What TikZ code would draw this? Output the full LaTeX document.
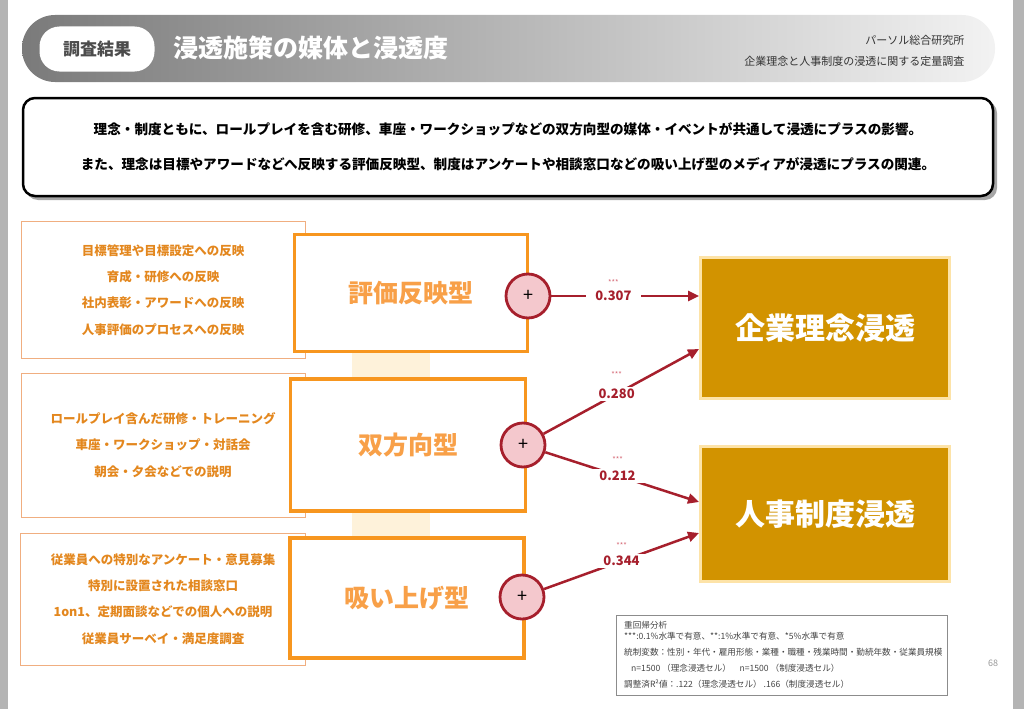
\documentclass[tikz,border=0pt]{standalone}
\usepackage{fontspec}
\setmainfont{Noto Sans CJK JP}
\usetikzlibrary{arrows.meta}
\definecolor{sidegray}{HTML}{B4B4B4}
\definecolor{listedge}{HTML}{F0AE80}
\definecolor{listtext}{HTML}{E3871E}
\definecolor{typeedge}{HTML}{F7961F}
\definecolor{typetext}{HTML}{F8A048}
\definecolor{bandyellow}{HTML}{FEF2DA}
\definecolor{plusred}{HTML}{A61F2C}
\definecolor{pluspink}{HTML}{F4C8CD}
\definecolor{gold}{HTML}{D29300}
\definecolor{goldedge}{HTML}{FDE3A8}
\definecolor{starred}{HTML}{D8707C}
\definecolor{notegray}{HTML}{444444}
\begin{document}
\begin{tikzpicture}[x=1pt,y=-1pt,
  listbox/.style={draw=listedge, line width=0.8pt, text=listtext, align=center, inner sep=0pt,
    font=\fontsize{12.5}{26.3}\selectfont\bfseries},
  typebox/.style={draw=typeedge, line width=3.5pt, fill=white, text=typetext, inner sep=0pt,
    font=\fontsize{25}{30}\selectfont\bfseries},
  plus/.style={circle, draw=plusred, line width=2.8pt, fill=pluspink, minimum size=44pt, inner sep=0pt,
    font=\fontsize{18}{18}\selectfont},
  goalbox/.style={draw=goldedge, line width=3pt, fill=gold, text=white, inner sep=0pt,
    minimum width=249pt, font=\fontsize{30}{36}\selectfont\bfseries},
  link/.style={draw=plusred, line width=2.5pt, -{Triangle[length=11pt,width=10pt]}},
  coef/.style={fill=white, text=plusred, font=\fontsize{13}{13}\selectfont\bfseries, inner xsep=9pt, inner ysep=2pt},
  stars/.style={fill=white, text=starred, font=\fontsize{7.5}{7.5}\selectfont, inner sep=1pt},
  note/.style={anchor=west, text=notegray, font=\fontsize{8.6}{9}\selectfont, inner sep=0pt}
]
\useasboundingbox (0,0) rectangle (1024,709);
\fill[sidegray] (0,0) rectangle (8,709);
\fill[sidegray] (1013,0) rectangle (1024,709);

\shade[left color=black!52, right color=black!5, rounded corners=33pt] (22,15) rectangle (995,82);
\node[fill=white, rounded corners=20pt, minimum width=115pt, minimum height=45pt, text=black!70,
  font=\fontsize{17}{17}\selectfont\bfseries] (tag) at (97,49) {調査結果};
\node[anchor=west, text=white, font=\fontsize{25}{25}\selectfont\bfseries] (title) at (170,48) {浸透施策の媒体と浸透度};
\node[anchor=east, text=black!80, font=\fontsize{11}{11}\selectfont] (org) at (968,40) {パーソル総合研究所};
\node[anchor=east, text=black!80, font=\fontsize{11}{11}\selectfont] (survey) at (968,61) {企業理念と人事制度の浸透に関する定量調査};

\fill[black!35, rounded corners=12pt] (26,101) rectangle (997,200);
\node[draw=black, line width=2.5pt, fill=white, rounded corners=12pt, minimum width=970pt, minimum height=98pt,
  align=center, font=\fontsize{13.6}{35}\selectfont\bfseries] (summary) at (508,147)
  {理念・制度ともに、ロールプレイを含む研修、車座・ワークショップなどの双方向型の媒体・イベントが共通して浸透にプラスの影響。\\
   また、理念は目標やアワードなどへ反映する評価反映型、制度はアンケートや相談窓口などの吸い上げ型のメディアが浸透にプラスの関連。};

\fill[bandyellow] (352,352) rectangle (430,538);

\node[listbox, minimum width=284pt, minimum height=137pt] (list1) at (163,290)
  {目標管理や目標設定への反映\\育成・研修への反映\\社内表彰・アワードへの反映\\人事評価のプロセスへの反映};
\node[listbox, minimum width=284pt, minimum height=144pt] (list2) at (163,445)
  {ロールプレイ含んだ研修・トレーニング\\車座・ワークショップ・対話会\\朝会・夕会などでの説明};
\node[listbox, minimum width=285pt, minimum height=132pt] (list3) at (163,599)
  {従業員への特別なアンケート・意見募集\\特別に設置された相談窓口\\1on1、定期面談などでの個人への説明\\従業員サーベイ・満足度調査};

\node[typebox, minimum width=233pt, minimum height=117pt] (eval) at (411,293) {評価反映型};
\node[typebox, minimum width=235pt, minimum height=132pt] (dual) at (408,445) {双方向型};
\node[typebox, minimum width=234pt, minimum height=120pt] (pull) at (407,598) {吸い上げ型};

\node[goalbox, minimum height=141pt] (idea) at (825,328) {企業理念浸透};
\node[goalbox, minimum height=135pt] (rule) at (825,514) {人事制度浸透};

\node[plus] (pa) at (528,296) {+};
\node[plus] (pb) at (523,445) {+};
\node[plus] (pc) at (522,597) {+};

\draw[link] (pa) -- node[coef, pos=0.42] (v1) {0.307} (pa -| idea.west);
\draw[link] (pb) -- node[coef, pos=0.47] (v2) {0.280} ([yshift=-21pt]idea.west);
\draw[link] (pb) -- node[coef, pos=0.47] (v3) {0.212} ([yshift=12pt]rule.west);
\draw[link] (pc) -- node[coef, pos=0.5] (v4) {0.344} ([yshift=-19pt]rule.west);
\node[stars] (s1) at ([yshift=13pt]v1.center) {***};
\node[stars] (s2) at ([yshift=19pt]v2.center) {***};
\node[stars] (s3) at ([yshift=16pt]v3.center) {***};
\node[stars] (s4) at ([yshift=16pt]v4.center) {***};

\node[draw=black!45, line width=0.8pt, minimum width=331pt, minimum height=80pt] (notebox) at (782,655) {};
\node[note] (n1) at (624,625) {重回帰分析};
\node[note] (n2) at (624,636) {***:0.1\%水準で有意、**:1\%水準で有意、*5\%水準で有意};
\node[note] (n3) at (624,652) {統制変数：性別・年代・雇用形態・業種・職種・残業時間・勤続年数・従業員規模};
\node[note] (n4) at (631,668) {n=1500 （理念浸透セル）\quad n=1500 （制度浸透セル）};
\node[note] (n5) at (624,684) {調整済R²値：.122（理念浸透セル） .166（制度浸透セル）};
\node[text=black!40, font=\fontsize{9}{9}\selectfont] (pnum) at (993,663) {68};
\end{tikzpicture}
\end{document}
